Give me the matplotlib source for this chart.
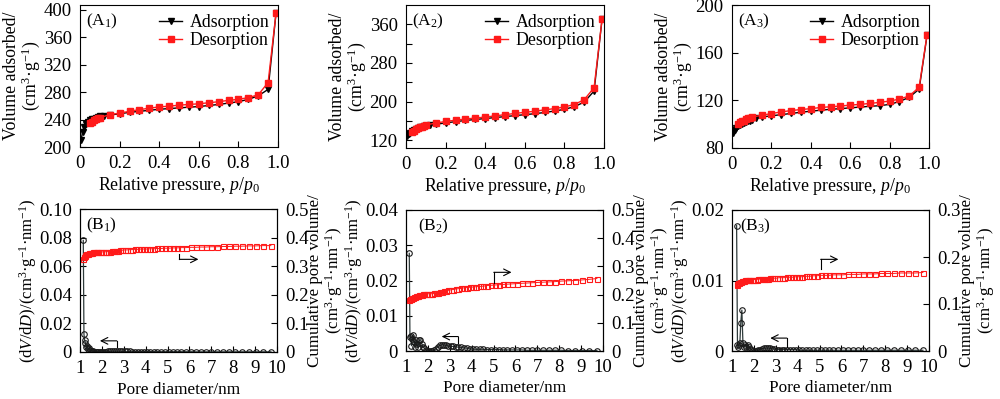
import matplotlib
matplotlib.use('Agg')
import matplotlib.pyplot as plt

plt.rcParams['font.family'] = ['Liberation Serif', 'DejaVu Serif']
plt.rcParams['mathtext.fontset'] = 'custom'
plt.rcParams['mathtext.rm'] = 'Liberation Serif'
plt.rcParams['mathtext.it'] = 'Liberation Serif:italic'
plt.rcParams['font.size'] = 12
plt.rcParams['xtick.labelsize'] = 13.5
plt.rcParams['ytick.labelsize'] = 13.5

# ---- isotherms (A panels) ----
p_ads = [0.005, 0.013, 0.02, 0.03, 0.04, 0.05, 0.06, 0.07, 0.08, 0.09, 0.10, 0.12, 0.15,
         0.20, 0.25, 0.30, 0.35, 0.40, 0.45, 0.50, 0.55, 0.60, 0.65, 0.70, 0.75, 0.80,
         0.85, 0.90, 0.95, 0.99]
p_des = [0.99, 0.95, 0.90, 0.85, 0.80, 0.75, 0.70, 0.65, 0.60, 0.55, 0.50, 0.45, 0.40,
         0.35, 0.30, 0.25, 0.20, 0.15, 0.10, 0.09, 0.08, 0.07, 0.06, 0.05]
p_des2 = p_des + [0.04, 0.03]

a1_ads = [209.5, 222, 229, 234, 237, 239, 240.5, 241.5, 242.5, 243.5, 244.5, 245.5, 246.5,
          248.5, 250.5, 252, 253.5, 255, 256, 257, 258, 259, 260.5, 262, 264, 266,
          269.5, 274.5, 284, 395]
a1_des = [395, 294, 276, 272, 269.5, 268, 266, 264.5, 263, 262, 261, 259.5, 258.5,
          256.5, 254.5, 252, 249.5, 247, 243, 242, 240.5, 239, 237, 234.5]

a2_ads = [128, 132, 136, 139, 141.5, 143.5, 145, 146.5, 148, 149, 150, 151.5, 153,
          156, 158.5, 161, 163, 165, 167, 169, 171, 173, 175, 177.5, 180.5, 184,
          189.5, 199, 222, 370]
a2_des = [370, 229, 204, 194, 189, 185.5, 183, 180, 178, 175.5, 173, 170.5, 168,
          166, 164, 161.5, 159, 155.5, 152, 150.5, 148.5, 146.5, 144.5, 142.5, 140, 137.5]

a3_ads = [92.5, 95, 97, 98.5, 99.5, 100.3, 101, 101.7, 102.3, 103, 103.7, 104.8, 106,
          107, 108, 109, 110, 110.9, 111.7, 112.5, 113, 113.7, 114.3, 115, 115.5, 116.6,
          119, 122.6, 129.4, 174.5]
a3_des = [175, 131, 123.7, 121, 119.4, 118.3, 117.4, 116.6, 116, 115.2, 114.6, 114, 113,
          112.3, 111.4, 110.3, 108.9, 107.4, 106, 105.4, 104.9, 104, 103, 102.3, 101.4, 100]

# ---- pore size distributions (B panels) ----
pore_d = [1.15, 1.18, 1.21, 1.25, 1.28, 1.32, 1.36, 1.40, 1.45, 1.50,
          1.55, 1.60, 1.66, 1.72, 1.78, 1.84, 1.91, 1.98, 2.05, 2.12,
          2.20, 2.28, 2.36, 2.45, 2.54, 2.63, 2.73, 2.83, 2.93, 3.04,
          3.15, 3.27, 3.39, 3.51, 3.64, 3.78, 3.92, 4.06, 4.21, 4.37,
          4.53, 4.70, 4.87, 5.05, 5.24, 5.43, 5.63, 5.84, 6.06, 6.28,
          6.51, 6.75, 7.00, 7.26, 7.53, 7.81, 8.10, 8.40, 8.71, 9.03,
          9.37, 9.72]
pore_d3 = pore_d[2:]

b1_dv = [0.0780, 0.0125, 0.0085, 0.0060, 0.0035, 0.0045, 0.0020, 0.0028, 0.0012, 0.0008,
         0.0005, 0.0004, 0.0003, 0.0003, 0.0002, 0.0002, 0.0002, 0.0002, 0.0002, 0.0003,
         0.0003, 0.0004, 0.0004, 0.0005, 0.0005, 0.0005, 0.0005, 0.0005, 0.0004, 0.0004,
         0.0004, 0.0004, 0.0003, 0.0003, 0.0003, 0.0003, 0.0003, 0.0003, 0.0003, 0.0002,
         0.0002, 0.0002, 0.0002, 0.0002, 0.0002, 0.0002, 0.0002, 0.0002, 0.0002, 0.0001,
         0.0001, 0.0001, 0.0001, 0.0001, 0.0001, 0.0001, 0.0001, 0.0001, 0.0001, 0.0001,
         0.0001, 0.0001]
b1_cum = [0.326, 0.332, 0.336, 0.339, 0.341, 0.343, 0.344, 0.345, 0.346, 0.347,
          0.347, 0.348, 0.348, 0.349, 0.349, 0.349, 0.350, 0.350, 0.350, 0.350,
          0.351, 0.351, 0.351, 0.352, 0.352, 0.353, 0.354, 0.355, 0.356, 0.357,
          0.357, 0.358, 0.358, 0.359, 0.359, 0.360, 0.360, 0.360, 0.361, 0.361,
          0.362, 0.362, 0.363, 0.363, 0.364, 0.364, 0.365, 0.365, 0.366, 0.366,
          0.367, 0.367, 0.368, 0.368, 0.369, 0.369, 0.370, 0.370, 0.371, 0.371,
          0.372, 0.372]

b2_dv = [0.0277, 0.0040, 0.0042, 0.0015, 0.0035, 0.0045, 0.0025, 0.0012, 0.0030, 0.0020,
         0.0010, 0.0030, 0.0032, 0.0020, 0.0012, 0.0008, 0.0004, 0.0001, 0.0000, 0.0000,
         0.0000, 0.0002, 0.0006, 0.0012, 0.0016, 0.0018, 0.0017, 0.0016, 0.0014, 0.0013,
         0.0013, 0.0012, 0.0011, 0.0010, 0.0009, 0.0008, 0.0006, 0.0005, 0.0005, 0.0005,
         0.0005, 0.0004, 0.0004, 0.0004, 0.0004, 0.0003, 0.0003, 0.0003, 0.0003, 0.0003,
         0.0002, 0.0002, 0.0002, 0.0002, 0.0002, 0.0002, 0.0002, 0.0001, 0.0001, 0.0001,
         0.0001, 0.0001]
b2_cum = [0.181, 0.183, 0.185, 0.186, 0.187, 0.189, 0.191, 0.192, 0.194, 0.195,
          0.196, 0.197, 0.199, 0.200, 0.201, 0.202, 0.203, 0.203, 0.203, 0.203,
          0.203, 0.204, 0.205, 0.207, 0.209, 0.210, 0.212, 0.214, 0.215, 0.217,
          0.218, 0.220, 0.221, 0.222, 0.224, 0.225, 0.226, 0.227, 0.228, 0.229,
          0.230, 0.232, 0.233, 0.234, 0.235, 0.236, 0.237, 0.238, 0.239, 0.240,
          0.241, 0.242, 0.243, 0.244, 0.245, 0.246, 0.248, 0.249, 0.250, 0.252,
          0.254, 0.257]

b3_dv = [0.0178, 0.0009, 0.0005, 0.0009, 0.0012, 0.0040, 0.0058, 0.0011, 0.0006, 0.0009,
         0.0005, 0.0009, 0.0006, 0.0003, 0.0001, 0.0000, 0.0000, 0.0000, 0.0001, 0.0002,
         0.0003, 0.0004, 0.0004, 0.0004, 0.0004, 0.0003, 0.0003, 0.0002, 0.0002, 0.0002,
         0.0002, 0.0002, 0.0002, 0.0002, 0.0002, 0.0001, 0.0001, 0.0001, 0.0001, 0.0001,
         0.0001, 0.0001, 0.0001, 0.0001, 0.0001, 0.0001, 0.0001, 0.0001, 0.0001, 0.0001,
         0.0001, 0.0001, 0.0001, 0.0001, 0.0001, 0.0001, 0.0001, 0.0001, 0.0001, 0.0001]
b3_cum = [0.141, 0.143, 0.144, 0.145, 0.146, 0.147, 0.149, 0.150, 0.150, 0.151,
          0.151, 0.151, 0.152, 0.152, 0.152, 0.152, 0.152, 0.152, 0.153, 0.153,
          0.153, 0.154, 0.154, 0.154, 0.155, 0.155, 0.155, 0.155, 0.156, 0.156,
          0.156, 0.157, 0.157, 0.157, 0.158, 0.158, 0.158, 0.159, 0.159, 0.160,
          0.160, 0.161, 0.161, 0.161, 0.162, 0.162, 0.162, 0.163, 0.163, 0.163,
          0.164, 0.164, 0.164, 0.165, 0.165, 0.165, 0.166, 0.166, 0.166, 0.167]

RED = '#ff1a1a'
W, H = 1000, 399


def box(l, t, r, b):
    # pixel box -> figure fraction
    return [l / W, 1 - b / H, (r - l) / W, (b - t) / H]


fig = plt.figure(figsize=(10, 3.99), dpi=100)

ylabel_a = 'Volume adsorbed/\n(cm$^3$·g$^{-1}$)'
ylabel_bl = '(d$V$/d$D$)/(cm$^3$·g$^{-1}$·nm$^{-1}$)'
ylabel_br = 'Cumulative pore volume/\n(cm$^3$·g$^{-1}$·nm$^{-1}$)'

# ---------------- top row ----------------
top_boxes = [(80, 5, 278, 147), (406, 5, 604, 148), (732, 5, 929, 148)]
ads_sets = [(a1_ads, a1_des, p_des), (a2_ads, a2_des, p_des2), (a3_ads, a3_des, p_des2)]
tags_a = ['(A$_1$)', '(A$_2$)', '(A$_3$)']
for i in range(3):
    ax = fig.add_axes(box(*top_boxes[i]))
    ads, des, pd = ads_sets[i]
    ax.plot(p_ads, ads, '-', color='k', lw=1.0, marker='v', ms=4.5, label='Adsorption')
    ax.plot(pd, des, '-', color=RED, lw=1.0, marker='s', ms=4, label='Desorption')
    ax.set_xlim(0, 1.0)
    ax.set_xticks([0, 0.2, 0.4, 0.6, 0.8, 1.0])
    ax.set_xticklabels(['0', '0.2', '0.4', '0.6', '0.8', '1.0'])
    ax.set_xlabel('Relative pressure, $p$/$p_0$', labelpad=2, fontsize=12.8)
    ax.set_ylabel(ylabel_a, labelpad=1, linespacing=1.0, fontsize=12.8)
    ax.tick_params(direction='in', length=4, width=0.8, which='both', pad=6)
    ax.legend(loc='upper right', frameon=False, handlelength=1.3, handletextpad=0.4,
              borderaxespad=0.1, labelspacing=0.05, fontsize=12.8)
    ax.text(0.03, 0.95, tags_a[i], transform=ax.transAxes, va='top', ha='left', fontsize=12.5)
    if i == 0:
        ax.set_ylim(200, 407)
        ax.set_yticks([200, 240, 280, 320, 360, 400])
    elif i == 1:
        ax.set_ylim(104, 400)
        ax.set_yticks([120, 200, 280, 360])
        ax.set_yticks([160, 240, 320], minor=True)
        ax.tick_params(which='minor', length=4)
    else:
        ax.set_ylim(80, 200)
        ax.set_yticks([80, 120, 160, 200])

# ---------------- bottom row ----------------
bot_boxes = [(80, 209, 277, 352), (406, 210, 603, 351), (732, 210, 929, 351)]
pore_sets = [(pore_d, b1_dv, b1_cum), (pore_d, b2_dv, b2_cum), (pore_d3, b3_dv, b3_cum)]
left_lims = [(0.10, [0, 0.02, 0.04, 0.06, 0.08, 0.10], ['0', '0.02', '0.04', '0.06', '0.08', '0.10']),
             (0.04, [0, 0.01, 0.02, 0.03, 0.04], ['0', '0.01', '0.02', '0.03', '0.04']),
             (0.02, [0, 0.01, 0.02], ['0', '0.01', '0.02'])]
right_lims = [(0.5, [0, 0.1, 0.2, 0.3, 0.4, 0.5], ['0', '0.1', '0.2', '0.3', '0.4', '0.5']),
              (0.5, [0, 0.1, 0.2, 0.3, 0.4, 0.5], ['0', '0.1', '0.2', '0.3', '0.4', '0.5']),
              (0.3, [0, 0.1, 0.2, 0.3], ['0', '0.1', '0.2', '0.3'])]
tags_b = ['(B$_1$)', '(B$_2$)', '(B$_3$)']
tag_pos = [(0.03, 0.95), (0.06, 0.95), (0.04, 0.95)]
# arrows: (x_bend, x_tip, y_arrow, y_end) for left curve, same for right curve
left_arrows = [(2.68, 1.91, 0.0078, 0.0035), (3.39, 2.63, 0.0041, 0.0022), (3.5, 2.75, 0.00183, 0.00062)]
right_arrows = [(5.54, 6.41, 0.324, 0.341), (5.01, 5.82, 0.279, 0.24), (5.05, 5.86, 0.195, 0.175)]

for i in range(3):
    ax = fig.add_axes(box(*bot_boxes[i]))
    d, dv, cum = pore_sets[i]
    ax.plot(d, dv, '-', color='#2f3b3b', lw=0.9, marker='o', ms=4, mfc='none',
            mec='#1a1a1a', mew=0.8)
    ax.set_xlim(1, 10)
    ax.set_xticks([1, 2, 3, 4, 5, 6, 7, 8, 9, 10])
    top, ticks, labels = left_lims[i]
    ax.set_ylim(0, top)
    ax.set_yticks(ticks)
    ax.set_yticklabels(labels)
    ax.set_xlabel('Pore diameter/nm', labelpad=3, fontsize=12.4)
    ax.set_ylabel(ylabel_bl, labelpad=0, fontsize=12)
    ax.tick_params(direction='in', length=4, width=0.8, pad=6)
    ax.text(tag_pos[i][0], tag_pos[i][1], tags_b[i], transform=ax.transAxes, va='top', ha='left',
            fontsize=12.5)

    xb, xt, ya, ye = left_arrows[i]
    ax.plot([xb, xb], [ya, ye], color='k', lw=0.8)
    ax.annotate('', xy=(xt, ya), xytext=(xb, ya),
                arrowprops=dict(arrowstyle='->', color='k', lw=0.8, shrinkA=0, shrinkB=0))

    ax2 = ax.twinx()
    ax2.plot(d, cum, '-', color=RED, lw=0.7, marker='s', ms=3.6, mfc='none', mec=RED, mew=0.8)
    top, ticks, labels = right_lims[i]
    ax2.set_ylim(0, top)
    ax2.set_yticks(ticks)
    ax2.set_yticklabels(labels)
    ax2.set_ylabel(ylabel_br, labelpad=-1, linespacing=0.95, fontsize=12.2)
    ax2.tick_params(direction='in', length=4, width=0.8, pad=6)

    xb, xt, ya, ye = right_arrows[i]
    ax2.plot([xb, xb], [ya, ye], color='k', lw=0.8)
    ax2.annotate('', xy=(xt, ya), xytext=(xb, ya),
                 arrowprops=dict(arrowstyle='->', color='k', lw=0.8, shrinkA=0, shrinkB=0))

fig.savefig('out.png', dpi=100)
